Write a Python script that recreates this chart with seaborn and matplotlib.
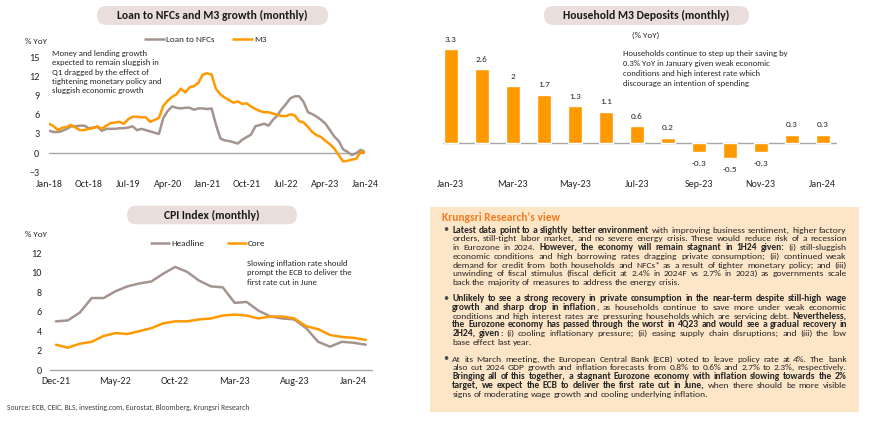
import pandas as pd
import seaborn as sns
import matplotlib
matplotlib.use("Agg")
import matplotlib.pyplot as plt
from matplotlib import font_manager
from matplotlib.patches import FancyBboxPatch, Rectangle
from matplotlib.lines import Line2D
from matplotlib.transforms import IdentityTransform
from matplotlib.font_manager import FontProperties

W, H = 870, 430

# ---- data ----
loan_months = pd.date_range("2018-01-01", "2024-01-01", freq="MS").strftime("%b-%y").tolist()
loan_nfc = [3.5, 3.3, 3.3, 3.5, 3.8, 4.2, 4.2, 4.3, 4.3, 3.9, 4.0, 4.1,
            3.5, 3.8, 3.8, 3.8, 3.9, 3.9, 4.0, 4.2, 3.6, 3.8, 3.6, 3.4,
            3.2, 3.0, 5.5, 6.6, 7.3, 7.1, 7.0, 7.1, 7.1, 6.8, 7.0, 7.0,
            6.9, 7.0, 4.5, 2.3, 2.0, 1.9, 1.7, 1.5, 2.1, 2.5, 2.9, 4.2,
            4.4, 4.6, 4.3, 5.2, 5.9, 6.9, 7.7, 8.6, 8.9, 8.9, 8.0, 6.4,
            6.1, 5.7, 5.2, 4.6, 3.6, 2.6, 1.9, 0.6, 0.2, -0.3, 0.0, 0.5,
            0.2]
m3 = [4.6, 4.2, 3.6, 4.0, 4.1, 4.4, 4.0, 3.6, 3.6, 3.8, 3.9, 4.2,
      3.8, 4.3, 4.7, 4.8, 4.9, 4.6, 5.3, 5.7, 5.7, 5.6, 5.6, 4.9,
      5.2, 5.5, 7.4, 8.2, 8.8, 9.2, 10.1, 9.5, 10.3, 10.5, 11.0, 12.3,
      12.5, 12.3, 10.1, 9.2, 8.7, 8.3, 7.9, 8.1, 7.7, 7.8, 7.3, 6.9,
      6.6, 6.4, 6.4, 6.2, 6.0, 5.8, 5.8, 6.1, 5.9, 5.0, 4.8, 4.1,
      3.3, 2.8, 2.5, 1.9, 1.4, 0.7, -0.3, -1.3, -1.2, -1.0, -0.9, 0.2,
      0.1]
loan_ticks = ["Jan-18", "Oct-18", "Jul-19", "Apr-20", "Jan-21", "Oct-21", "Jul-22", "Apr-23", "Jan-24"]

hh_months = pd.date_range("2023-01-01", "2024-01-01", freq="MS").strftime("%b-%y").tolist()
hh_deposits = [3.3, 2.6, 2, 1.7, 1.3, 1.1, 0.6, 0.2, -0.3, -0.5, -0.3, 0.3, 0.3]
hh_ticks = ["Jan-23", "Mar-23", "May-23", "Jul-23", "Sep-23", "Nov-23", "Jan-24"]

cpi_months = pd.date_range("2021-12-01", "2024-02-01", freq="MS").strftime("%b-%y").tolist()
cpi_headline = [5.0, 5.1, 5.9, 7.4, 7.4, 8.1, 8.6, 8.9, 9.1, 9.9, 10.6, 10.1, 9.2,
                8.6, 8.5, 6.9, 7.0, 6.1, 5.5, 5.3, 5.2, 4.3, 2.9, 2.4, 2.9, 2.8, 2.6]
cpi_core = [2.6, 2.3, 2.7, 2.9, 3.5, 3.8, 3.7, 4.0, 4.3, 4.8, 5.0, 5.0, 5.2,
            5.3, 5.6, 5.7, 5.6, 5.3, 5.5, 5.5, 5.3, 4.5, 4.2, 3.6, 3.4, 3.3, 3.1]
cpi_ticks = ["Dec-21", "May-22", "Oct-22", "Mar-23", "Aug-23", "Jan-24"]

loan_note = ["Money and lending growth", "expected to remain sluggish in", "Q1 dragged by the effect of",
             "tightening monetary policy and", "sluggish economic growth"]
hh_note = ["Households continue to step up their saving by", "0.3% YoY in January given weak economic",
           "conditions and high interest rate which", "discourage an intention of spending"]
cpi_note = ["Slowing inflation rate should", "prompt the ECB to deliver the", "first rate cut in June"]

view_b1 = [
    "**Latest data point to a slightly better environment** with improving business sentiment, higher factory",
    "orders, still-tight labor market, and no severe energy crisis. These would reduce risk of a recession",
    "in Eurozone in 2024. **However, the economy will remain stagnant in 1H24 given:** (i) still-sluggish",
    "economic conditions and high borrowing rates dragging private consumption; (ii) continued weak",
    "demand for credit from both households and NFCs* as a result of tighter monetary policy; and (iii)",
    "unwinding of fiscal stimulus (fiscal deficit at 2.4% in 2024F vs 2.7% in 2023) as governments scale",
    "back the majority of measures to address the energy crisis.",
]
view_b2 = [
    "**Unlikely to see a strong recovery in private consumption in the near-term despite still-high wage**",
    "**growth and sharp drop in inflation**, as households continue to save more under weak economic",
    "conditions and high interest rates are pressuring households which are servicing debt. **Nevertheless,**",
    "**the Eurozone economy has passed through the worst in 4Q23 and would see a gradual recovery in**",
    "**2H24, given**: (i) cooling inflationary pressure; (ii) easing supply chain disruptions; and (iii) the low",
    "base effect last year.",
]
view_b3 = [
    "At its March meeting, the European Central Bank (ECB) voted to leave policy rate at 4%. The bank",
    "also cut 2024 GDP growth and inflation forecasts from 0.8% to 0.6% and 2.7% to 2.3%, respectively.",
    "**Bringing all of this together, a stagnant Eurozone economy with inflation slowing towards the 2%**",
    "**target, we expect the ECB to deliver the first rate cut in June,** when there should be more visible",
    "signs of moderating wage growth and cooling underlying inflation.",
]

ORANGE = "#ff9900"
GREY = "#a4948f"
AXIS = "#a6a6a6"
TXT = "#262626"
PILL = "#e9dedc"
BOX = "#fde5c8"
TITLE_OR = "#f47b20"

# Calibri look-alike if the machine has it, otherwise Lato
installed = {f.name for f in font_manager.fontManager.ttflist}
FAM = ["Carlito", "DejaVu Sans"] if "Carlito" in installed else ["Lato", "DejaVu Sans"]

sns.set_theme(style="white")
plt.rcParams["font.family"] = FAM
plt.rcParams["text.color"] = TXT

fig = plt.figure(figsize=(8.7, 4.3), dpi=100)
renderer = fig.canvas.get_renderer()


def measure(s, bold, size):
    fp = FontProperties(family=FAM, size=size, weight="bold" if bold else "normal")
    return renderer.get_text_width_height_descent(s, fp, ismath=False)[0]


def fit(s, width_px, bold=False):
    # font size that makes s about width_px wide, as measured on the reference
    return 10 * width_px / measure(s, bold, 10)


TICK = fit("Jan-18", 26.7)
LEG = fit("Headline", 33.3)
UNIT = fit("% YoY", 22)
NOTE = fit("expected to remain sluggish in", 107.7)
TITLE = fit("Household M3 Deposits (monthly)", 166, bold=True)


def rect(l, t, r, b):
    return [l / W, 1 - b / H, (r - l) / W, (b - t) / H]


def ftext(x, y, s, **kw):
    return fig.text(x / W, 1 - y / H, s, **kw)


def pill(l, t, r, b, label):
    h = b - t
    p = FancyBboxPatch((l, H - b), r - l, h, boxstyle=f"round,pad=0,rounding_size={h / 2}",
                       transform=IdentityTransform(), fc=PILL, ec="none")
    fig.add_artist(p)
    ftext((l + r) / 2, (t + b) / 2 + 0.3, label, ha="center", va="center",
          fontsize=TITLE, fontweight="bold", color="#1a1a1a")


def legend_item(x0, x1, y, color, label):
    fig.add_artist(Line2D([x0 / W, x1 / W], [1 - y / H, 1 - y / H], transform=fig.transFigure,
                          color=color, lw=1.8, solid_capstyle="butt"))
    ftext(x1 + 1, y, label, ha="left", va="center", fontsize=LEG)


def note(x, y0, step, lines):
    for k, s in enumerate(lines):
        ftext(x, y0 + k * step, s, ha="left", va="center", fontsize=NOTE)


def style_axes(ax, xpad, ypad):
    for s in ax.spines.values():
        s.set_visible(False)
    ax.tick_params(axis="both", length=0, labelsize=TICK, colors=TXT)
    ax.tick_params(axis="x", pad=xpad)
    ax.tick_params(axis="y", pad=ypad)
    ax.set_xlabel("")
    ax.set_ylabel("")
    ax.patch.set_alpha(0)


# ---- Loan to NFCs and M3 ----
ax1 = fig.add_axes(rect(49.3, 57.3, 365, 172.3))
x_loan = list(range(len(loan_months)))
sns.lineplot(x=x_loan, y=loan_nfc, color=GREY, lw=1.8, ax=ax1)
sns.lineplot(x=x_loan, y=m3, color=ORANGE, lw=1.8, ax=ax1)
ax1.axhline(0, color=AXIS, lw=1, zorder=0)
ax1.set_xlim(0, len(loan_months) - 1)
ax1.set_ylim(-3, 15)
ax1.set_yticks(range(-3, 16, 3))
ax1.set_xticks([loan_months.index(m) for m in loan_ticks])
ax1.set_xticklabels(loan_ticks)
style_axes(ax1, 5.5, 7.2)

pill(97, 6, 328, 25, "Loan to NFCs and M3 growth (monthly)")
ftext(25, 41, "% YoY", ha="left", va="center", fontsize=UNIT)
legend_item(144, 165, 39, GREY, "Loan to NFCs")
legend_item(232, 253, 39, ORANGE, "M3")
note(51.7, 53.3, 9.35, loan_note)

# ---- Household M3 deposits ----
ax2 = fig.add_axes(rect(443.3, 40.7, 837.3, 171.8))
hh = pd.DataFrame({"month": hh_months, "value": hh_deposits})
sns.barplot(data=hh, x="month", y="value", color=ORANGE, saturation=1, width=0.45, ax=ax2)
for i, v in enumerate(hh_deposits):
    ax2.annotate(f"{v:g}", (i, v), xytext=(0, 7.2 if v >= 0 else -8.3), textcoords="offset points",
                 ha="center", va="center", fontsize=fit("3.3", 11.7))
ax2.axhline(0, color=AXIS, lw=1, zorder=0)
ax2.set_xlim(-0.24, 12.47)
ax2.set_ylim(-1.0, 3.6)
ax2.set_yticks([])
ax2.set_xticks([hh_months.index(m) for m in hh_ticks])
ax2.set_xticklabels(hh_ticks)
style_axes(ax2, 5.6, 0)

pill(544, 6, 749, 25, "Household M3 Deposits (monthly)")
ftext(646, 35, "(% YoY)", ha="center", va="center", fontsize=UNIT)
note(622.7, 53.3, 10.2, hh_note)

# ---- CPI ----
ax3 = fig.add_axes(rect(50, 253.3, 371.7, 370))
x_cpi = list(range(len(cpi_months)))
sns.lineplot(x=x_cpi, y=cpi_headline, color=GREY, lw=1.8, ax=ax3)
sns.lineplot(x=x_cpi, y=cpi_core, color=ORANGE, lw=1.8, ax=ax3)
ax3.axhline(0, color=AXIS, lw=1, zorder=0, clip_on=False)
ax3.set_xlim(-0.5, len(cpi_months) - 0.5)
ax3.set_ylim(0, 12)
ax3.set_yticks(range(0, 13, 2))
ax3.set_xticks([cpi_months.index(m) for m in cpi_ticks])
ax3.set_xticklabels(cpi_ticks)
style_axes(ax3, 5.3, 6)

pill(127, 205.7, 297, 224.3, "CPI Index (monthly)")
ftext(25, 234, "% YoY", ha="left", va="center", fontsize=UNIT)
legend_item(150, 170, 243, GREY, "Headline")
legend_item(227, 247, 243, ORANGE, "Core")
note(247, 263.3, 9.7, cpi_note)

src = "Source: ECB, CEIC, BLS, investing.com, Eurostat, Bloomberg, Krungsri Research"
ftext(7.3, 407, src, ha="left", va="center", fontsize=fit(src, 244), color="#404040")

# ---- Krungsri Research's view box ----
fig.add_artist(Rectangle((430 / W, 1 - 411.7 / H), (859 - 430) / W, (411.7 - 207.3) / H,
                         transform=fig.transFigure, fc=BOX, ec="none", zorder=0))
head = "Krungsri Research\u2019s view"
ftext(441.7, 217.7, head, ha="left", va="center",
      fontsize=fit(head, 117, bold=True), fontweight="bold", color=TITLE_OR)


def parse_words(line):
    words = [[]]
    for k, seg in enumerate(line.split("**")):
        bold = k % 2 == 1
        for j, part in enumerate(seg.split(" ")):
            if j > 0:
                words.append([])
            if part:
                words[-1].append((part, bold))
    return [w for w in words if w]


TEXT_X, TEXT_W = 452.3, 394.4
body_size = 7.0
widest = 0
for para in (view_b1, view_b2, view_b3):
    for line in para[:-1]:
        ws = parse_words(line)
        nat = sum(measure(p, b, body_size) for w in ws for p, b in w)
        nat += (len(ws) - 1) * measure(" ", False, body_size)
        widest = max(widest, nat)
body_size *= (TEXT_W - 2) / widest


def put_line(y, line, justify):
    ws = parse_words(line)
    widths = [sum(measure(p, b, body_size) for p, b in w) for w in ws]
    gap = measure("a a", False, body_size) - measure("aa", False, body_size)
    if justify and len(ws) > 1:
        gap = (TEXT_W - sum(widths)) / (len(ws) - 1)
    x = TEXT_X
    for w, ww in zip(ws, widths):
        xx = x
        for p, b in w:
            ftext(xx, y, p, ha="left", va="baseline", fontsize=body_size,
                  fontweight="bold" if b else "normal")
            xx += measure(p, b, body_size)
        x += ww + gap


LINE_H = 8.75
for para, y0 in ((view_b1, 230), (view_b2, 298.5), (view_b3, 359)):
    ftext(443, y0 + 2.4, "\u2022", ha="left", va="baseline", fontsize=body_size + 0.5, color="#4d4d4d")
    for k, line in enumerate(para):
        put_line(y0 + 2.6 + k * LINE_H, line, k < len(para) - 1)

fig.savefig("out.png", dpi=100)
